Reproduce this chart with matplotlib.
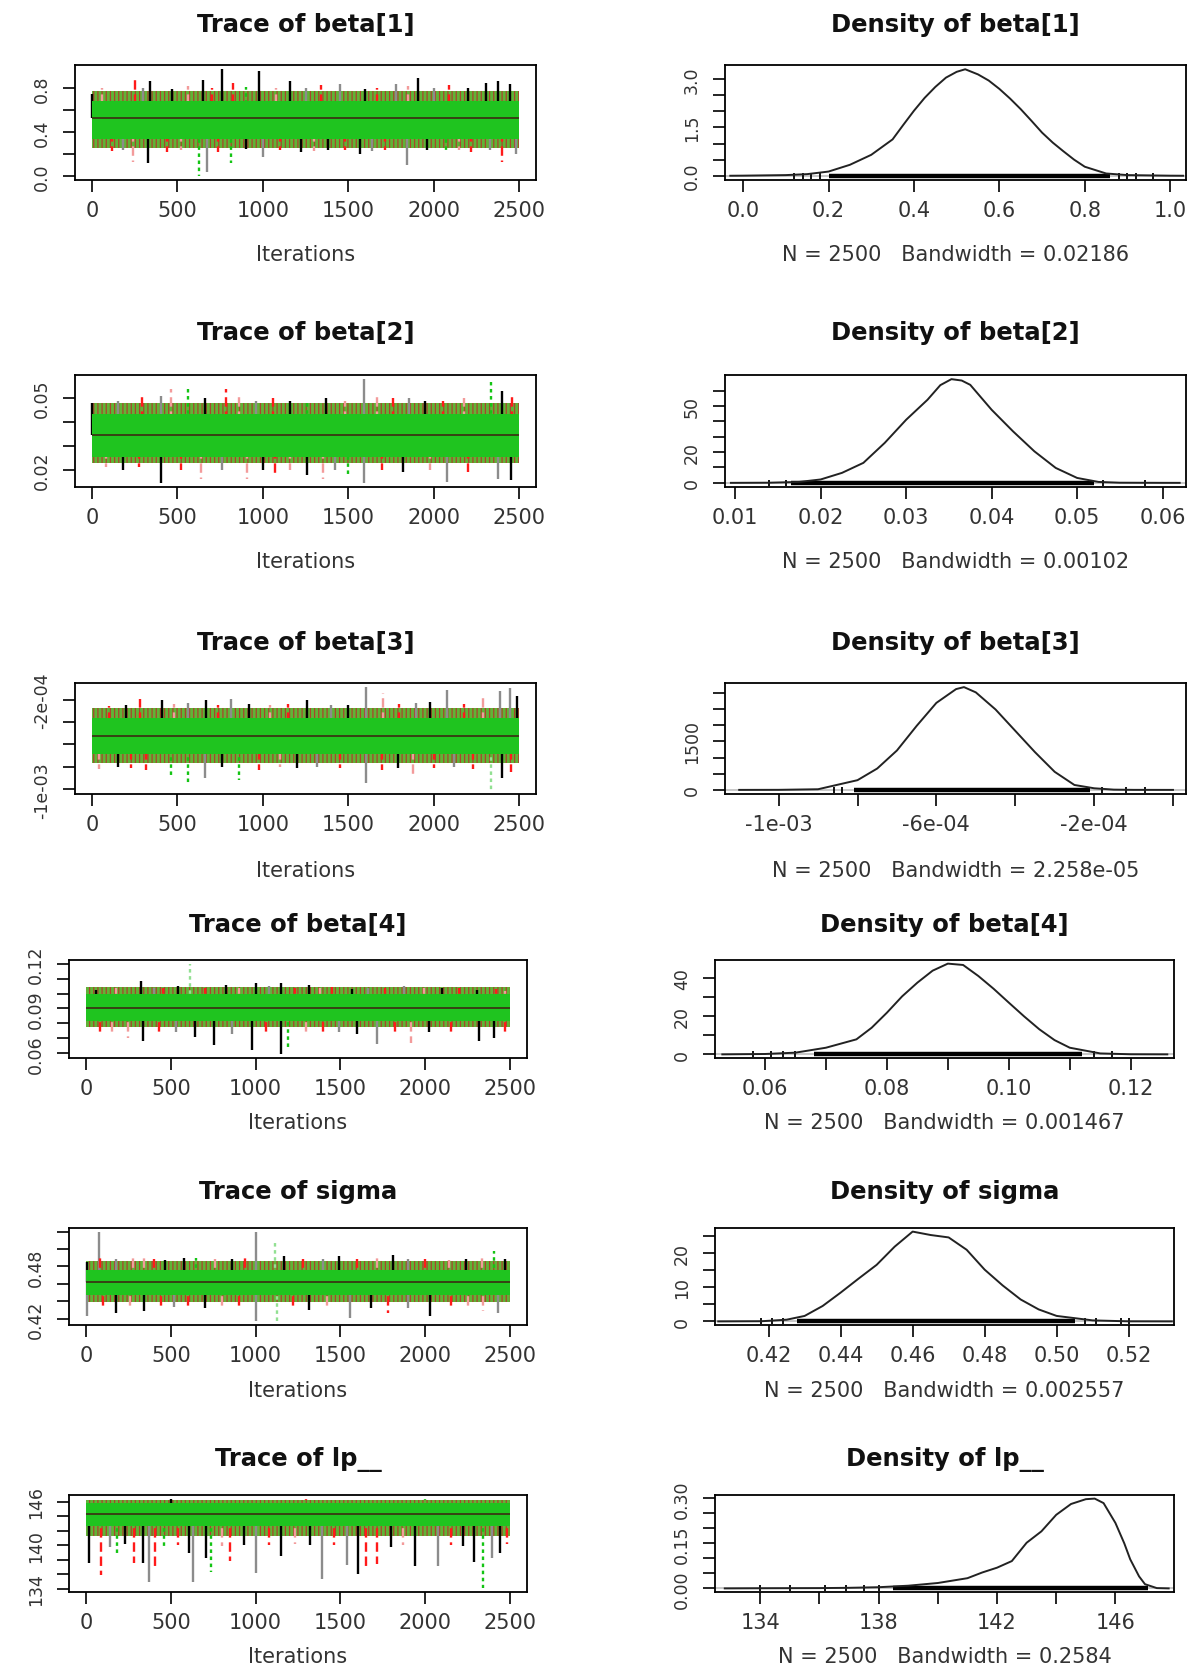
import matplotlib
matplotlib.use("Agg")
import matplotlib.pyplot as plt

plt.rcParams['font.family'] = ['DejaVu Sans']
plt.rcParams['hatch.linewidth'] = 0.9

W, H = 1197, 1665

params = ['beta[1]', 'beta[2]', 'beta[3]', 'beta[4]', 'sigma', 'lp__']
n_draws = 2500
bandwidth = ['0.02186', '0.00102', '2.258e-05', '0.001467', '0.002557', '0.2584']
iter_ticks = [0, 500, 1000, 1500, 2000, 2500]

# ---------------- trace panels ----------------
trace_mean = [0.525, 0.0345, -5.26e-4, 0.0905, 0.4624, 144.4]
trace_core = [(0.34, 0.68), (0.0255, 0.0433), (-6.89e-4, -3.63e-4),
              (0.0818, 0.0998), (0.4468, 0.4765), (142.7, 145.8)]
trace_fringe = [(0.26, 0.77), (0.0228, 0.0478), (-7.63e-4, -2.74e-4),
                (0.0773, 0.1043), (0.4393, 0.4858), (141.3, 146.25)]

# (iteration, value, chain) for the visible excursions
spikes_b1 = [(0, 0.75, 'k'), (60, 0.80, 'p'), (250, 0.89, 'r'), (300, 0.80, 'a'),
             (340, 0.86, 'k'), (470, 0.79, 'k'), (560, 0.82, 'p'), (650, 0.87, 'k'),
             (700, 0.80, 'r'), (760, 0.97, 'k'), (826, 0.85, 'r'), (900, 0.81, 'g'),
             (980, 0.95, 'k'), (1080, 0.80, 'p'), (1160, 0.86, 'k'), (1250, 0.80, 'a'),
             (1340, 0.83, 'r'), (1450, 0.84, 'a'), (1600, 0.79, 'k'), (1670, 0.80, 'r'),
             (1780, 0.84, 'a'), (1850, 0.82, 'p'), (1910, 0.89, 'k'), (2000, 0.80, 'a'),
             (2090, 0.83, 'r'), (2200, 0.80, 'k'), (2310, 0.85, 'k'), (2380, 0.86, 'k'),
             (2445, 0.84, 'k'),
             (118, 0.23, 'r'), (180, 0.24, 'a'), (240, 0.13, 'p'), (328, 0.12, 'k'),
             (440, 0.22, 'r'), (520, 0.24, 'p'), (627, 0.006, 'g'), (672, 0.04, 'a'),
             (740, 0.22, 'r'), (815, 0.12, 'g'), (900, 0.25, 'k'), (1000, 0.18, 'a'),
             (1100, 0.24, 'r'), (1225, 0.22, 'k'), (1300, 0.23, 'p'), (1380, 0.24, 'k'),
             (1480, 0.24, 'r'), (1570, 0.20, 'k'), (1640, 0.23, 'a'), (1716, 0.24, 'r'),
             (1845, 0.10, 'a'), (1960, 0.24, 'k'), (2070, 0.23, 'g'), (2150, 0.24, 'p'),
             (2220, 0.22, 'r'), (2330, 0.24, 'a'), (2400, 0.13, 'r'), (2480, 0.20, 'a')]
spikes_b2 = [(0, 0.048, 'k'), (150, 0.049, 'a'), (295, 0.051, 'r'), (405, 0.051, 'a'),
             (460, 0.054, 'p'), (560, 0.054, 'g'), (660, 0.050, 'k'), (782, 0.054, 'r'),
             (860, 0.052, 'p'), (960, 0.049, 'a'), (1060, 0.050, 'r'), (1160, 0.049, 'k'),
             (1260, 0.049, 'g'), (1370, 0.050, 'k'), (1480, 0.049, 'p'), (1592, 0.058, 'a'),
             (1670, 0.051, 'p'), (1760, 0.050, 'r'), (1857, 0.050, 'a'), (1950, 0.049, 'k'),
             (2057, 0.049, 'r'), (2180, 0.050, 'p'), (2335, 0.057, 'g'), (2400, 0.053, 'k'),
             (2460, 0.052, 'r'),
             (84, 0.021, 'p'), (180, 0.020, 'k'), (272, 0.021, 'r'), (405, 0.0145, 'k'),
             (520, 0.020, 'r'), (640, 0.016, 'p'), (760, 0.020, 'a'), (905, 0.016, 'p'),
             (1000, 0.020, 'k'), (1070, 0.017, 'r'), (1160, 0.020, 'p'), (1260, 0.018, 'k'),
             (1350, 0.016, 'p'), (1420, 0.020, 'a'), (1500, 0.017, 'g'), (1592, 0.0145, 'a'),
             (1700, 0.020, 'r'), (1820, 0.019, 'k'), (1980, 0.020, 'p'), (2080, 0.0148, 'a'),
             (2200, 0.019, 'r'), (2380, 0.016, 'a'), (2455, 0.0155, 'k')]
spikes_b3 = [(100, -2.6e-4, 'r'), (200, -2.5e-4, 'k'), (283, -1.9e-4, 'r'),
             (410, -2.0e-4, 'k'), (480, -2.4e-4, 'p'), (560, -2.3e-4, 'a'),
             (667, -2.0e-4, 'k'), (740, -2.5e-4, 'r'), (816, -1.95e-4, 'a'),
             (920, -2.4e-4, 'k'), (1040, -2.5e-4, 'p'), (1150, -2.4e-4, 'r'),
             (1260, -2.0e-4, 'k'), (1400, -2.5e-4, 'a'), (1500, -2.5e-4, 'k'),
             (1603, -0.87e-4, 'a'), (1702, -1.4e-4, 'p'), (1800, -2.4e-4, 'r'),
             (1900, -2.3e-4, 'a'), (1980, -2.2e-4, 'k'), (2080, -1.1e-4, 'a'),
             (2180, -2.4e-4, 'r'), (2290, -1.7e-4, 'p'), (2390, -1.2e-4, 'a'),
             (2445, -0.95e-4, 'a'), (2490, -1.7e-4, 'k'),
             (40, -8.2e-4, 'p'), (150, -8.0e-4, 'k'), (230, -8.1e-4, 'r'),
             (317, -8.3e-4, 'r'), (460, -8.9e-4, 'g'), (560, -9.5e-4, 'g'),
             (660, -9.0e-4, 'a'), (760, -8.0e-4, 'k'), (860, -9.2e-4, 'g'),
             (980, -8.3e-4, 'r'), (1100, -8.0e-4, 'p'), (1200, -8.1e-4, 'k'),
             (1320, -8.0e-4, 'a'), (1450, -8.1e-4, 'r'), (1603, -9.4e-4, 'a'),
             (1700, -8.3e-4, 'r'), (1790, -8.1e-4, 'k'), (1880, -8.6e-4, 'p'),
             (2000, -8.1e-4, 'r'), (2120, -8.0e-4, 'a'), (2230, -8.2e-4, 'r'),
             (2335, -1.006e-3, 'l'), (2400, -9.0e-4, 'k'), (2455, -8.5e-4, 'r')]
spikes_b4 = [(22, 0.100, 'r'), (62, 0.1025, 'k'), (180, 0.104, 'p'), (323, 0.1085, 'k'),
             (400, 0.104, 'a'), (457, 0.104, 'r'), (540, 0.105, 'k'), (612, 0.120, 'l'),
             (700, 0.104, 'r'), (824, 0.106, 'k'), (900, 0.104, 'p'), (1002, 0.107, 'k'),
             (1080, 0.105, 'a'), (1147, 0.107, 'k'), (1230, 0.104, 'r'), (1314, 0.106, 'k'),
             (1380, 0.104, 'p'), (1448, 0.1045, 'r'), (1570, 0.103, 'k'), (1660, 0.104, 'a'),
             (1760, 0.104, 'r'), (1875, 0.105, 'a'), (1990, 0.104, 'p'), (2100, 0.104, 'k'),
             (2200, 0.104, 'r'), (2305, 0.1025, 'k'), (2417, 0.103, 'r'), (2472, 0.102, 'p'),
             (80, 0.074, 'r'), (156, 0.0725, 'p'), (245, 0.070, 'p'), (334, 0.0685, 'k'),
             (430, 0.074, 'r'), (530, 0.074, 'a'), (640, 0.071, 'k'), (757, 0.0655, 'k'),
             (860, 0.073, 'a'), (976, 0.0625, 'k'), (1060, 0.073, 'r'), (1147, 0.0593, 'k'),
             (1192, 0.064, 'g'), (1300, 0.074, 'p'), (1400, 0.074, 'r'), (1492, 0.074, 'a'),
             (1600, 0.073, 'k'), (1715, 0.066, 'a'), (1820, 0.073, 'r'), (1915, 0.067, 'p'),
             (2020, 0.074, 'k'), (2150, 0.073, 'r'), (2316, 0.0685, 'k'), (2405, 0.070, 'k'),
             (2472, 0.0725, 'r')]
spikes_sg = [(7, 0.485, 'k'), (78, 0.520, 'a'), (85, 0.490, 'r'), (180, 0.488, 'a'),
             (278, 0.490, 'p'), (345, 0.493, 'p'), (400, 0.488, 'r'), (468, 0.487, 'k'),
             (580, 0.490, 'k'), (646, 0.490, 'g'), (760, 0.489, 'p'), (860, 0.488, 'k'),
             (940, 0.490, 'r'), (1003, 0.519, 'a'), (1114, 0.509, 'l'), (1170, 0.492, 'k'),
             (1280, 0.488, 'r'), (1400, 0.488, 'a'), (1492, 0.492, 'k'), (1600, 0.488, 'r'),
             (1715, 0.490, 'p'), (1809, 0.493, 'k'), (1900, 0.488, 'a'), (2000, 0.489, 'r'),
             (2140, 0.487, 'p'), (2240, 0.488, 'k'), (2336, 0.490, 'p'), (2405, 0.498, 'g'),
             (2470, 0.488, 'k'),
             (7, 0.423, 'a'), (100, 0.432, 'r'), (178, 0.427, 'k'), (260, 0.432, 'p'),
             (345, 0.429, 'k'), (440, 0.432, 'r'), (520, 0.433, 'a'), (602, 0.430, 'r'),
             (700, 0.432, 'k'), (800, 0.433, 'p'), (900, 0.432, 'r'), (1003, 0.417, 'a'),
             (1125, 0.418, 'l'), (1220, 0.432, 'r'), (1314, 0.430, 'k'), (1420, 0.432, 'p'),
             (1558, 0.421, 'a'), (1680, 0.432, 'k'), (1782, 0.427, 'r'), (1900, 0.432, 'a'),
             (2027, 0.423, 'k'), (2150, 0.432, 'r'), (2250, 0.431, 'p'), (2340, 0.429, 'p'),
             (2428, 0.427, 'a')]
spikes_lp = [(500, 146.45, 'k'), (1300, 146.47, 'r'), (2000, 146.4, 'g'),
             (16, 137.5, 'k'), (89, 135.9, 'r'), (140, 139.8, 'a'), (182, 138.5, 'g'),
             (230, 140.2, 'k'), (282, 137.5, 'r'), (338, 137.6, 'k'), (374, 135.0, 'a'),
             (405, 136.8, 'r'), (460, 139.5, 'g'), (540, 140.0, 'r'), (605, 139.0, 'k'),
             (632, 135.0, 'a'), (705, 138.2, 'k'), (738, 136.3, 'g'), (800, 139.9, 'p'),
             (850, 137.8, 'r'), (930, 140.1, 'k'), (1005, 136.2, 'a'), (1080, 140.0, 'r'),
             (1150, 138.6, 'k'), (1230, 140.2, 'p'), (1320, 140.0, 'k'), (1393, 135.3, 'a'),
             (1460, 140.0, 'r'), (1539, 137.3, 'a'), (1606, 136.1, 'k'), (1650, 137.2, 'r'),
             (1717, 137.4, 'r'), (1800, 139.8, 'k'), (1870, 140.0, 'p'), (1940, 137.2, 'k'),
             (2073, 137.2, 'a'), (2150, 140.0, 'r'), (2220, 139.9, 'k'), (2285, 137.7, 'k'),
             (2340, 134.05, 'g'), (2395, 138.3, 'a'), (2440, 138.9, 'k'), (2480, 140.2, 'r')]
trace_spikes = [spikes_b1, spikes_b2, spikes_b3, spikes_b4, spikes_sg, spikes_lp]

trace_yticks = [[0.0, 0.2, 0.4, 0.6, 0.8],
                [0.02, 0.03, 0.04, 0.05],
                [-1e-3, -8e-4, -6e-4, -4e-4, -2e-4],
                [0.06, 0.07, 0.08, 0.09, 0.10, 0.11, 0.12],
                [0.42, 0.44, 0.46, 0.48, 0.50, 0.52],
                [134, 136, 138, 140, 142, 144, 146]]
trace_ylabels = [['0.0', '', '0.4', '', '0.8'],
                 ['0.02', '', '', '0.05'],
                 ['-1e-03', '', '', '', '-2e-04'],
                 ['0.06', '', '', '0.09', '', '', '0.12'],
                 ['0.42', '', '', '0.48', '', ''],
                 ['134', '', '', '140', '', '', '146']]

# ---------------- density panels ----------------
dens_x_b1 = [-0.03, 0.0, 0.1, 0.15, 0.2, 0.25, 0.3, 0.35, 0.375, 0.4, 0.425, 0.45,
             0.475, 0.5, 0.52, 0.55, 0.575, 0.6, 0.625, 0.65, 0.675, 0.7, 0.725,
             0.75, 0.775, 0.8, 0.85, 0.9, 1.0, 1.03]
dens_y_b1 = [0, 0.003, 0.02, 0.05, 0.13, 0.34, 0.65, 1.13, 1.58, 2.02, 2.42, 2.76,
             3.05, 3.23, 3.31, 3.15, 2.96, 2.7, 2.4, 2.07, 1.71, 1.34, 1.03,
             0.76, 0.5, 0.28, 0.07, 0.02, 0.002, 0]
dens_x_b2 = [0.0095, 0.014, 0.0175, 0.02, 0.0225, 0.025, 0.0275, 0.03, 0.0325, 0.034,
             0.0353, 0.0365, 0.0375, 0.04, 0.0425, 0.045, 0.0475, 0.05, 0.0525, 0.055,
             0.06, 0.062]
dens_y_b2 = [0, 0.1, 0.6, 2.2, 6.5, 13, 26, 41, 54, 63.5, 67.4, 66.5, 63.7, 47.5,
             33.5, 20.5, 9.7, 3.2, 0.6, 0.1, 0.01, 0]
dens_x_b3 = [-1.1e-3, -1.0e-3, -9e-4, -8e-4, -7.5e-4, -7e-4, -6.5e-4, -6e-4, -5.5e-4,
             -5.3e-4, -5e-4, -4.5e-4, -4e-4, -3.5e-4, -3e-4, -2.5e-4, -2e-4, -1.5e-4,
             -1e-4, 0.0]
dens_y_b3 = [0, 2, 20, 300, 660, 1217, 1977, 2687, 3113, 3174, 3012, 2484, 1825, 1166,
             558, 152, 50, 8, 1, 0]
dens_x_b4 = [0.053, 0.06, 0.065, 0.07, 0.075, 0.0775, 0.08, 0.0825, 0.085, 0.0875,
             0.09, 0.0925, 0.095, 0.0975, 0.1, 0.1025, 0.105, 0.1075, 0.11, 0.115,
             0.12, 0.126]
dens_y_b4 = [0, 0.2, 0.9, 3.5, 7.9, 14.0, 21.9, 30.5, 37.7, 44.0, 47.7, 47.0, 41.2,
             34.5, 27.2, 20.0, 13.2, 7.5, 3.5, 0.5, 0.05, 0]
dens_x_sg = [0.406, 0.418, 0.425, 0.43, 0.435, 0.44, 0.445, 0.45, 0.455, 0.46, 0.465,
             0.47, 0.475, 0.48, 0.485, 0.49, 0.495, 0.50, 0.51, 0.52, 0.532]
dens_y_sg = [0, 0.05, 0.5, 1.6, 4.5, 8.4, 12.5, 16.5, 21.8, 26.2, 25.2, 24.5, 20.9,
             15.1, 10.5, 6.4, 3.5, 1.6, 0.3, 0.02, 0]
dens_x_lp = [132.8, 134, 136, 137, 138, 139, 140, 141, 141.5, 142, 142.5, 143, 143.5,
             144, 144.5, 145, 145.3, 145.6, 146, 146.3, 146.5, 146.8, 147, 147.4, 147.8]
dens_y_lp = [0, 0.0005, 0.001, 0.002, 0.004, 0.009, 0.018, 0.034, 0.053, 0.069, 0.091,
             0.152, 0.19, 0.245, 0.281, 0.297, 0.299, 0.284, 0.218, 0.15, 0.097, 0.04,
             0.014, 0.001, 0]
dens_x = [dens_x_b1, dens_x_b2, dens_x_b3, dens_x_b4, dens_x_sg, dens_x_lp]
dens_y = [dens_y_b1, dens_y_b2, dens_y_b3, dens_y_b4, dens_y_sg, dens_y_lp]

dens_xlim = [(-0.0424, 1.037), (0.00881, 0.06274), (-1.136e-3, 0.33e-4),
             (0.0518, 0.1271), (0.4051, 0.5326), (132.47, 147.98)]
rug_solid = [(0.2, 0.86), (0.0165, 0.052), (-8.1e-4, -2.1e-4),
             (0.068, 0.112), (0.428, 0.505), (138.5, 147.1)]
rug_sparse = [[0.12, 0.14, 0.16, 0.18, 0.88, 0.9, 0.92, 0.96],
              [0.014, 0.016, 0.053, 0.058],
              [-8.6e-4, -8.4e-4, -1.8e-4, -1.2e-4, -0.7e-4],
              [0.058, 0.061, 0.063, 0.065, 0.114, 0.117],
              [0.418, 0.421, 0.424, 0.508, 0.511, 0.518, 0.52],
              [134.0, 135.0, 136.2, 136.9, 137.5, 138.0]]

dens_xticks = [[0.0, 0.2, 0.4, 0.6, 0.8, 1.0],
               [0.01, 0.02, 0.03, 0.04, 0.05, 0.06],
               [-1e-3, -8e-4, -6e-4, -4e-4, -2e-4, 0.0],
               [0.06, 0.07, 0.08, 0.09, 0.10, 0.11, 0.12],
               [0.42, 0.44, 0.46, 0.48, 0.50, 0.52],
               [134, 136, 138, 140, 142, 144, 146]]
dens_xlabels = [['0.0', '0.2', '0.4', '0.6', '0.8', '1.0'],
                ['0.01', '0.02', '0.03', '0.04', '0.05', '0.06'],
                ['-1e-03', '', '-6e-04', '', '-2e-04', ''],
                ['0.06', '', '0.08', '', '0.10', '', '0.12'],
                ['0.42', '0.44', '0.46', '0.48', '0.50', '0.52'],
                ['134', '', '138', '', '142', '', '146']]
dens_yticks = [[0, 0.5, 1.0, 1.5, 2.0, 2.5, 3.0],
               [0, 10, 20, 30, 40, 50, 60],
               [0, 500, 1000, 1500, 2000, 2500, 3000],
               [0, 10, 20, 30, 40],
               [0, 5, 10, 15, 20, 25],
               [0, 0.05, 0.10, 0.15, 0.20, 0.25, 0.30]]
dens_ylabels = [['0.0', '', '', '1.5', '', '', '3.0'],
                ['0', '', '20', '', '', '50', ''],
                ['0', '', '', '1500', '', '', ''],
                ['0', '', '20', '', '40'],
                ['0', '', '10', '', '20', ''],
                ['0.00', '', '', '0.15', '', '', '0.30']]

# chain colours / line types (coda style, blurred lighter variants)
chain_style = {'k': ('#000000', '-'), 'r': ('#ff1a1a', (0, (4, 2))),
               'g': ('#14c414', (0, (1.5, 1.5))), 'a': ('#8c8c8c', '-'),
               'p': ('#f39b9b', (0, (4, 2))), 'l': ('#92e092', (0, (1.5, 1.5)))}

# ---------------- layout (pixels) ----------------
rows_y = [(66, 181), (376, 488), (684, 795), (961, 1059), (1229, 1326), (1496, 1593)]
title_y = [25, 333, 643, 925, 1192, 1460]
xlab_y = [255, 562, 871, 1123, 1391, 1657]
trace_x = [(75, 536)] * 3 + [(69, 527)] * 3
dens_xpix = [(725, 1186)] * 3 + [(715, 1174)] * 3

TXT = '#333333'
fig = plt.figure(figsize=(W / 100, H / 100), dpi=100)


def make_ax(xp, yp):
    x0, x1 = xp
    y0, y1 = yp
    ax = fig.add_axes([x0 / W, 1 - y1 / H, (x1 - x0) / W, (y1 - y0) / H])
    for s in ax.spines.values():
        s.set_linewidth(1.3)
    ax.tick_params(direction='out', length=8.5, width=1.2, labelsize=15,
                   labelcolor=TXT, pad=6)
    ax.tick_params(axis='y', pad=9, labelsize=12.5)
    return ax


def label_panel(xp, i, title, xlabel):
    cx = (xp[0] + xp[1]) / 2 / W
    fig.text(cx, 1 - title_y[i] / H, title, ha='center', va='center',
             fontsize=17.5, fontweight='bold', color='#111111')
    fig.text(cx, 1 - xlab_y[i] / H, xlabel, ha='center', va='center',
             fontsize=15, color=TXT)


for i, name in enumerate(params):
    # ---- trace ----
    ax = make_ax(trace_x[i], rows_y[i])
    sp = trace_spikes[i]
    vals = [v for _, v, _ in sp]
    lo, hi = min(vals), max(vals)
    rng = hi - lo
    ax.set_xlim(-0.04 * n_draws, 1.04 * n_draws)
    ax.set_ylim(lo - 0.04 * rng, hi + 0.04 * rng)
    f_lo, f_hi = trace_fringe[i]
    c_lo, c_hi = trace_core[i]
    ax.fill_between([1, n_draws], f_lo, f_hi, facecolor='#5fb436',
                    edgecolor='#a8452c', hatch='||||', lw=0, zorder=1)
    for it, v, ch in sp:
        col, ls = chain_style[ch]
        ax.vlines(it, trace_mean[i], v, colors=col, linestyles=[ls], lw=1.7, zorder=2)
    ax.fill_between([1, n_draws], c_lo, c_hi, color='#1fc41f', lw=0, zorder=3)
    ax.hlines(trace_mean[i], 1, n_draws, colors='#3b2b12', lw=1.2, zorder=5)
    ax.set_xticks(iter_ticks, [str(t) for t in iter_ticks])
    ax.set_yticks(trace_yticks[i], trace_ylabels[i], rotation=90, va='center')
    label_panel(trace_x[i], i, 'Trace of ' + name, 'Iterations')

    # ---- density ----
    ax = make_ax(dens_xpix[i], rows_y[i])
    dx, dy = dens_x[i], dens_y[i]
    m = max(dy)
    ax.set_xlim(*dens_xlim[i])
    ax.set_ylim(-0.04 * m, 1.04 * m)
    ax.axhline(0, color='#c4c4c4', lw=1.3, zorder=1)
    ax.hlines(0, rug_solid[i][0], rug_solid[i][1], colors='k', lw=3.2, zorder=2)
    ax.plot(rug_sparse[i], [0] * len(rug_sparse[i]), ls='none', marker='|',
            ms=5, mew=1.3, color='k', zorder=2)
    ax.plot(dx, dy, color='#222222', lw=1.4, zorder=3)
    ax.set_xticks(dens_xticks[i], dens_xlabels[i])
    ax.set_yticks(dens_yticks[i], dens_ylabels[i], rotation=90, va='center')
    label_panel(dens_xpix[i], i, 'Density of ' + name,
                'N = %d   Bandwidth = %s' % (n_draws, bandwidth[i]))

fig.savefig('out.png', dpi=100)
